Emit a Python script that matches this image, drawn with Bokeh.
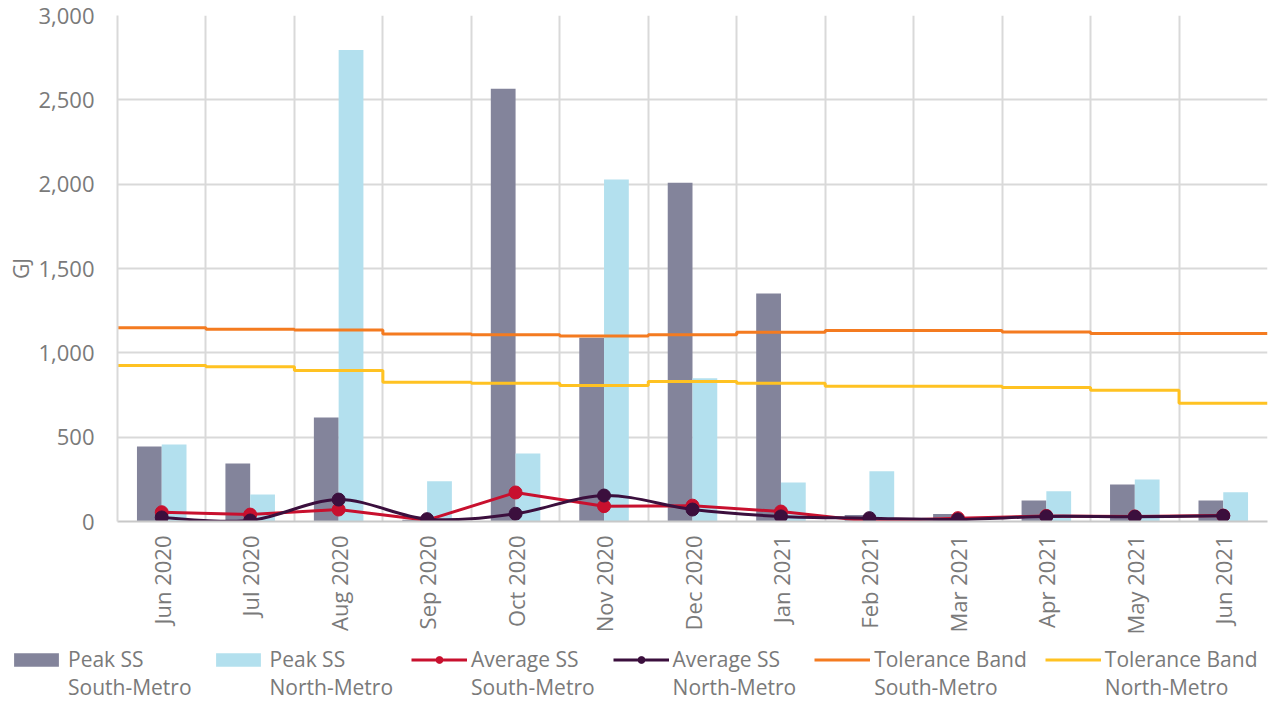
import numpy as np
from bokeh.plotting import figure
from bokeh.models import (Range1d, FixedTicker, NumeralTickFormatter, Legend, LegendItem,
                          ColumnDataSource)
from bokeh.embed import file_html
from bokeh.resources import INLINE

months = ["Jun 2020", "Jul 2020", "Aug 2020", "Sep 2020", "Oct 2020", "Nov 2020", "Dec 2020",
          "Jan 2021", "Feb 2021", "Mar 2021", "Apr 2021", "May 2021", "Jun 2021"]
peak_south = [445, 344, 617, 10, 2565, 1090, 2008, 1352, 38, 45, 124, 219, 124]
peak_north = [456, 160, 2795, 239, 403, 2027, 850, 231, 298, 0, 180, 249, 174]
avg_south = [55, 41, 71, 8, 172, 91, 94, 59, 2, 20, 33, 30, 35]
avg_north = [24, 6, 130, 14, 46, 154, 71, 30, 20, 12, 30, 28, 34]
tol_south = [1148, 1140, 1136, 1112, 1107, 1100, 1107, 1122, 1132, 1132, 1124, 1114, 1114]
tol_north = [925, 917, 895, 826, 820, 806, 830, 820, 802, 802, 794, 778, 701]
y_ticks = [0, 500, 1000, 1500, 2000, 2500, 3000]
series_labels = [("Peak SS", "South-Metro"), ("Peak SS", "North-Metro"), ("Average SS", "South-Metro"),
                 ("Average SS", "North-Metro"), ("Tolerance Band", "South-Metro"),
                 ("Tolerance Band", "North-Metro")]

FONT = "Open Sans"
TXT = "#7a7a7a"
C_GRAY = "#83849b"
C_BLUE = "#b3e0ee"
C_RED = "#c8102e"
C_DARK = "#3b0f3d"
C_ORANGE = "#f47b20"
C_YELLOW = "#ffc222"

n = len(months)
centers = np.arange(n) + 0.5
bounds = np.arange(n + 1)
bw = 0.28

p = figure(width=1268, height=637, output_backend="svg", toolbar_location=None,
           x_range=Range1d(0, n), y_range=Range1d(0, 3000),
           min_border_left=117, min_border_right=1, min_border_top=15, min_border_bottom=116)
p.outline_line_color = None

# bars
p.vbar(x=centers - bw / 2, top=peak_south, width=bw, fill_color=C_GRAY, line_color=None)
p.vbar(x=centers + bw / 2, top=peak_north, width=bw, fill_color=C_BLUE, line_color=None)

# tolerance step lines
p.step(x=list(bounds), y=tol_south + [tol_south[-1]], mode="after", line_color=C_ORANGE, line_width=3)
p.step(x=list(bounds), y=tol_north + [tol_north[-1]], mode="after", line_color=C_YELLOW, line_width=3)

# average south (straight)
p.line(x=centers, y=avg_south, line_color=C_RED, line_width=3)
p.scatter(x=centers, y=avg_south, size=13, fill_color=C_RED, line_color=C_RED)

# average north (smoothed, Catmull-Rom via bezier)
px = list(centers)
py = list(avg_north)
x0, y0, x1, y1, cx0, cy0, cx1, cy1 = [], [], [], [], [], [], [], []
for i in range(n - 1):
    a = max(i - 1, 0)
    d = min(i + 2, n - 1)
    x0.append(px[i]); y0.append(py[i]); x1.append(px[i + 1]); y1.append(py[i + 1])
    cx0.append(px[i] + (px[i + 1] - px[a]) / 6); cy0.append(py[i] + (py[i + 1] - py[a]) / 6)
    cx1.append(px[i + 1] - (px[d] - px[i]) / 6); cy1.append(py[i + 1] - (py[d] - py[i]) / 6)
bsrc = ColumnDataSource(dict(x0=x0, y0=y0, x1=x1, y1=y1, cx0=cx0, cy0=cy0, cx1=cx1, cy1=cy1))
p.bezier(x0="x0", y0="y0", x1="x1", y1="y1", cx0="cx0", cy0="cy0", cx1="cx1", cy1="cy1",
         source=bsrc, line_color=C_DARK, line_width=3)
p.scatter(x=centers, y=avg_north, size=13, fill_color=C_DARK, line_color=C_DARK)

# axes
p.xaxis.ticker = FixedTicker(ticks=list(centers))
p.xaxis.major_label_overrides = {float(c): m for c, m in zip(centers, months)}
p.xaxis.major_label_orientation = np.pi / 2
p.xaxis.major_tick_line_color = None
p.xaxis.minor_tick_line_color = None
p.xaxis.major_tick_out = 0
p.xaxis.minor_tick_out = 0
p.xaxis.major_label_standoff = 14
p.xaxis.axis_line_color = "#c8c8c8"
p.xaxis.axis_line_width = 2

p.yaxis.ticker = FixedTicker(ticks=y_ticks)
p.yaxis.formatter = NumeralTickFormatter(format="0,0")
p.yaxis.major_tick_line_color = None
p.yaxis.minor_tick_line_color = None
p.yaxis.major_tick_out = 0
p.yaxis.minor_tick_out = 0
p.yaxis.major_label_standoff = 23
p.yaxis.axis_line_color = "#d9d9d9"
p.yaxis.axis_line_width = 2
p.yaxis.axis_label = "GJ"
p.yaxis.axis_label_standoff = 0
p.yaxis.axis_label_text_font_style = "normal"

for ax in (p.xaxis[0], p.yaxis[0]):
    ax.major_label_text_font = FONT
    ax.major_label_text_color = TXT
    ax.major_label_text_font_size = "22px"
    ax.axis_label_text_font = FONT
    ax.axis_label_text_font_size = "21px"
    ax.axis_label_text_color = TXT

p.xgrid.ticker = FixedTicker(ticks=list(bounds))
p.xgrid.grid_line_color = "#d9d9d9"
p.xgrid.grid_line_width = 2
p.ygrid.grid_line_color = "#d9d9d9"
p.ygrid.grid_line_width = 2

# legend figure: swatch renderers hold a single NaN row, only to carry the legend styling
lg = figure(width=1268, height=65, output_backend="svg", toolbar_location=None,
            x_range=Range1d(0, 1), y_range=Range1d(0, 1),
            x_axis_location=None, y_axis_location=None,
            min_border_left=0, min_border_right=0, min_border_top=0, min_border_bottom=0)
lg.grid.visible = False
lg.outline_line_color = None
nan = [np.nan]
s1 = lg.vbar(x=nan, top=nan, width=1, fill_color=C_GRAY, line_color=None)
s2 = lg.vbar(x=nan, top=nan, width=1, fill_color=C_BLUE, line_color=None)
s3l = lg.line(x=nan, y=nan, line_color=C_RED, line_width=3)
s3m = lg.scatter(x=nan, y=nan, size=13, fill_color=C_RED, line_color=C_RED)
s4l = lg.line(x=nan, y=nan, line_color=C_DARK, line_width=3)
s4m = lg.scatter(x=nan, y=nan, size=13, fill_color=C_DARK, line_color=C_DARK)
s5 = lg.line(x=nan, y=nan, line_color=C_ORANGE, line_width=3)
s6 = lg.line(x=nan, y=nan, line_color=C_YELLOW, line_width=3)
groups = [[s1], [s2], [s3l, s3m], [s4l, s4m], [s5], [s6]]
# a leading blank line keeps each swatch level with the first line of its label
items = [LegendItem(label="\n" + a + "\n" + b, renderers=r) for (a, b), r in zip(series_labels, groups)]
legend = Legend(items=items, orientation="horizontal", location=(8, 1), padding=0, margin=0,
                spacing=18, glyph_width=56, glyph_height=17, label_standoff=4,
                label_text_font=FONT, label_text_font_size="21px", label_text_color=TXT,
                label_text_line_height=1.4,
                border_line_color=None, background_fill_alpha=0)
lg.add_layout(legend, "center")

open("out.html", "w").write(file_html([p, lg], INLINE))
